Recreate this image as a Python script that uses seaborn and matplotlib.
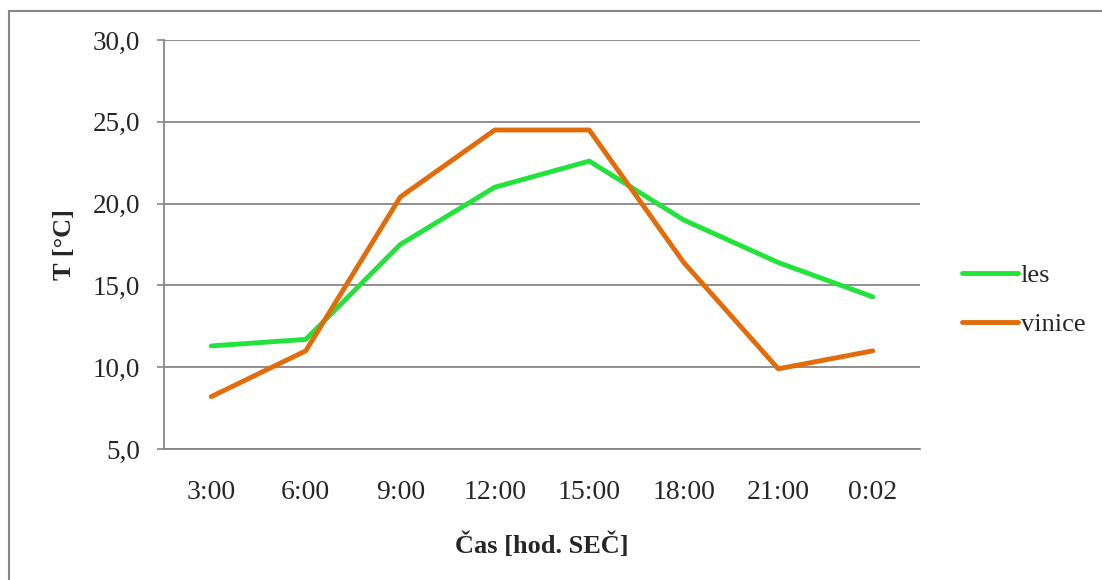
import pandas as pd
import matplotlib.pyplot as plt
import seaborn as sns
from matplotlib.lines import Line2D

# Data
times = ["3:00", "6:00", "9:00", "12:00", "15:00", "18:00", "21:00", "0:02"]
les = [11.3, 11.7, 17.5, 21.0, 22.6, 19.0, 16.4, 14.3]
vinice = [8.2, 11.0, 20.4, 24.5, 24.5, 16.4, 9.9, 11.0]
yticks = [5, 10, 15, 20, 25, 30]

data = pd.DataFrame({
    "cas": times * 2,
    "T": les + vinice,
    "serie": ["les"] * len(times) + ["vinice"] * len(times),
})

sns.set_style("white")
plt.rcParams["font.family"] = ["Liberation Serif", "DejaVu Serif"]

fig = plt.figure(figsize=(11.02, 5.8), dpi=100)
ax = fig.add_axes([164 / 1102, 1 - 449 / 580, (920 - 164) / 1102, (449 - 40) / 580])

sns.lineplot(data=data, x="cas", y="T", hue="serie",
             palette={"les": "#22e33c", "vinice": "#e36c0a"},
             linewidth=3.5, sort=False, ax=ax, legend=False,
             solid_capstyle="round", solid_joinstyle="round")

ax.set_xlim(-0.5, len(times) - 0.5)
ax.set_ylim(5, 30)
ax.set_yticks(yticks)
ax.set_yticklabels([f"{v:.1f}".replace(".", ",") for v in yticks], fontsize=19.5)
ax.set_xticks(range(len(times)))
ax.set_xticklabels(times, fontsize=20)
ax.tick_params(axis="x", length=0, pad=22)
ax.tick_params(axis="y", length=5, width=1.2, color="#868686", pad=12, left=True)

ax.yaxis.grid(True, color="#868686", linewidth=1.3)
ax.set_axisbelow(True)
for s in ["top", "right"]:
    ax.spines[s].set_visible(False)
for s in ["left", "bottom"]:
    ax.spines[s].set_color("#868686")
    ax.spines[s].set_linewidth(1.3)

ax.set_xlabel("Čas [hod. SEČ]", fontsize=19, fontweight="bold", labelpad=20)
ax.set_ylabel("T [°C]", fontsize=19, fontweight="bold", labelpad=12)

handles = [Line2D([], [], color="#22e33c", lw=3.5, solid_capstyle="round"),
           Line2D([], [], color="#e36c0a", lw=3.5, solid_capstyle="round")]
fig.legend(handles, ["les", "vinice"], loc="center left",
           bbox_to_anchor=(957 / 1102, 1 - 300 / 580), frameon=False,
           borderpad=0.2, borderaxespad=0,
           fontsize=19, handlelength=2.1, handletextpad=0.12, labelspacing=0.95)

# outer chart border
fig.add_artist(Line2D([9 / 1102, 1], [1 - 11 / 580, 1 - 11 / 580], color="#868686", lw=1.5))
fig.add_artist(Line2D([9 / 1102, 9 / 1102], [0, 1 - 11 / 580], color="#868686", lw=1.5))

fig.savefig("out.png", dpi=100)
